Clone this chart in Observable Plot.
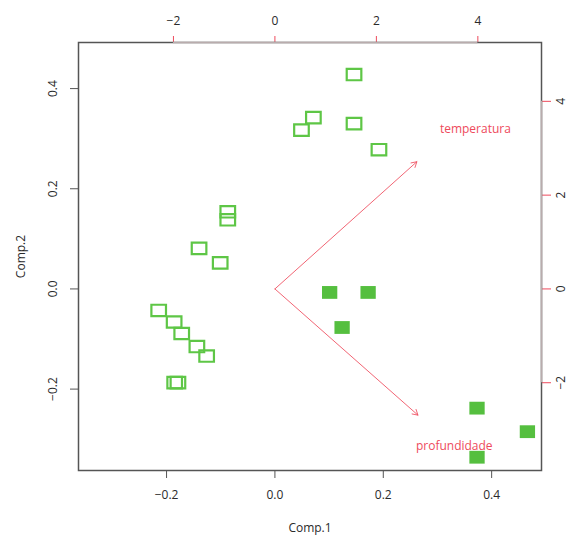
<!DOCTYPE html>
<html><head><meta charset="utf-8">
<script src="https://cdn.jsdelivr.net/npm/d3@7"></script>
<script src="https://cdn.jsdelivr.net/npm/@observablehq/plot@0.6"></script>
<style>body{margin:0;background:#fff}</style>
</head><body><div id="chart"></div>
<script>
// Scores (Comp.1, Comp.2) — open squares group
const openComp1 = [0.146, 0.071, 0.049, 0.146, 0.192, -0.087, -0.087, -0.140, -0.101, -0.2145, -0.186, -0.172, -0.144, -0.126, -0.185, -0.179];
const openComp2 = [0.428, 0.342, 0.317, 0.330, 0.278, 0.154, 0.138, 0.081, 0.052, -0.043, -0.066, -0.089, -0.115, -0.134, -0.187, -0.187];
// Scores — filled squares group
const filledComp1 = [0.101, 0.172, 0.124, 0.373, 0.466, 0.373];
const filledComp2 = [-0.007, -0.007, -0.077, -0.238, -0.285, -0.336];
// Loadings (variables)
const variables = ["temperatura", "profundidade"];
const arrowComp1 = [0.262, 0.264];
const arrowComp2 = [0.254, -0.252];
const labelComp1 = [0.370, 0.331];
const labelComp2 = [0.319, -0.314];
// Axes
const primaryTicks = [-0.2, 0, 0.2, 0.4];
const secondaryTicks = [-2, 0, 2, 4];
const secondaryRatio = 10.68;
const lim = [-0.3625, 0.492];

const green = "#5ec646";
const greenFill = "#55bf3f";
const red = "#ee4a5c";
const textCol = "#2a2a2a";
const boxCol = "#555555";

const minus = s => String(s).replace("-", "\u2212");
const fmt1 = d => minus(d.toFixed(1));
const fmtSec = d => minus(Math.round(d * secondaryRatio));

const openData = openComp1.map((x, i) => ({x, y: openComp2[i]}));
const filledData = filledComp1.map((x, i) => ({x, y: filledComp2[i]}));
const varData = variables.map((name, i) => ({name, x2: arrowComp1[i], y2: arrowComp2[i], lx: labelComp1[i], ly: labelComp2[i]}));
const secPos = secondaryTicks.map(t => t / secondaryRatio);

const rectSymbol = (w, h) => ({draw(ctx) {
  ctx.moveTo(-w/2, -h/2); ctx.lineTo(w/2, -h/2); ctx.lineTo(w/2, h/2); ctx.lineTo(-w/2, h/2); ctx.closePath();
}});

const chart = Plot.plot({
  width: 569, height: 535,
  marginLeft: 78, marginRight: 28, marginTop: 42, marginBottom: 65,
  style: {fontFamily: "'Open Sans', sans-serif", fontSize: "12px", background: "white", color: textCol},
  x: {domain: lim, axis: null},
  y: {domain: lim, axis: null},
  marks: [
    // primary axes
    Plot.axisX(primaryTicks, {anchor: "bottom", tickSize: 8, stroke: boxCol, tickFormat: () => "", label: null}),
    Plot.text(primaryTicks, {x: d => d, frameAnchor: "bottom", dy: 25, text: fmt1, fill: textCol, lineAnchor: "middle"}),
    Plot.axisY(primaryTicks, {anchor: "left", tickSize: 8, stroke: boxCol, tickFormat: () => "", label: null}),
    Plot.text(primaryTicks, {y: d => d, frameAnchor: "left", dx: -25, rotate: -90, text: fmt1, fill: textCol, textAnchor: "middle", lineAnchor: "middle"}),
    // secondary axes (loadings scale)
    Plot.axisX(secPos, {anchor: "top", tickSize: 7, stroke: red, tickFormat: () => "", label: null}),
    Plot.text(secPos, {x: d => d, frameAnchor: "top", dy: -21, text: fmtSec, fill: textCol, lineAnchor: "middle"}),
    Plot.axisY(secPos, {anchor: "right", tickSize: 9, stroke: red, tickFormat: () => "", label: null}),
    Plot.text(secPos, {y: d => d, frameAnchor: "right", dx: 20, rotate: -90, text: fmtSec, fill: textCol, textAnchor: "middle", lineAnchor: "middle"}),
    // box
    Plot.frame({stroke: boxCol, strokeWidth: 1.5}),
    Plot.ruleY([lim[1]], {x1: secPos[0], x2: secPos[secPos.length - 1], stroke: "#b9acad", strokeWidth: 1.5}),
    Plot.ruleX([lim[1]], {y1: secPos[0], y2: secPos[secPos.length - 1], stroke: "#b9acad", strokeWidth: 1.5}),
    // axis titles
    Plot.text(["Comp.1"], {frameAnchor: "bottom", dy: 58, fill: textCol, lineAnchor: "middle"}),
    Plot.text(["Comp.2"], {frameAnchor: "left", dx: -57, rotate: -90, fill: textCol, textAnchor: "middle", lineAnchor: "middle"}),
    // scores
    Plot.dot(openData, {x: "x", y: "y", symbol: rectSymbol(14.6, 11.4), stroke: green, strokeWidth: 2.2, fill: "none"}),
    Plot.dot(filledData, {x: "x", y: "y", symbol: rectSymbol(15.3, 12.8), fill: greenFill, stroke: "none"}),
    // loadings
    Plot.arrow(varData, {x1: () => 0, y1: () => 0, x2: "x2", y2: "y2", stroke: red, strokeWidth: 1, headLength: 9, strokeOpacity: 0.85}),
    Plot.text(varData, {x: "lx", y: "ly", text: "name", fill: red, fontSize: 12, lineAnchor: "middle"})
  ]
});
document.getElementById("chart").appendChild(chart);
</script>
</body></html>
